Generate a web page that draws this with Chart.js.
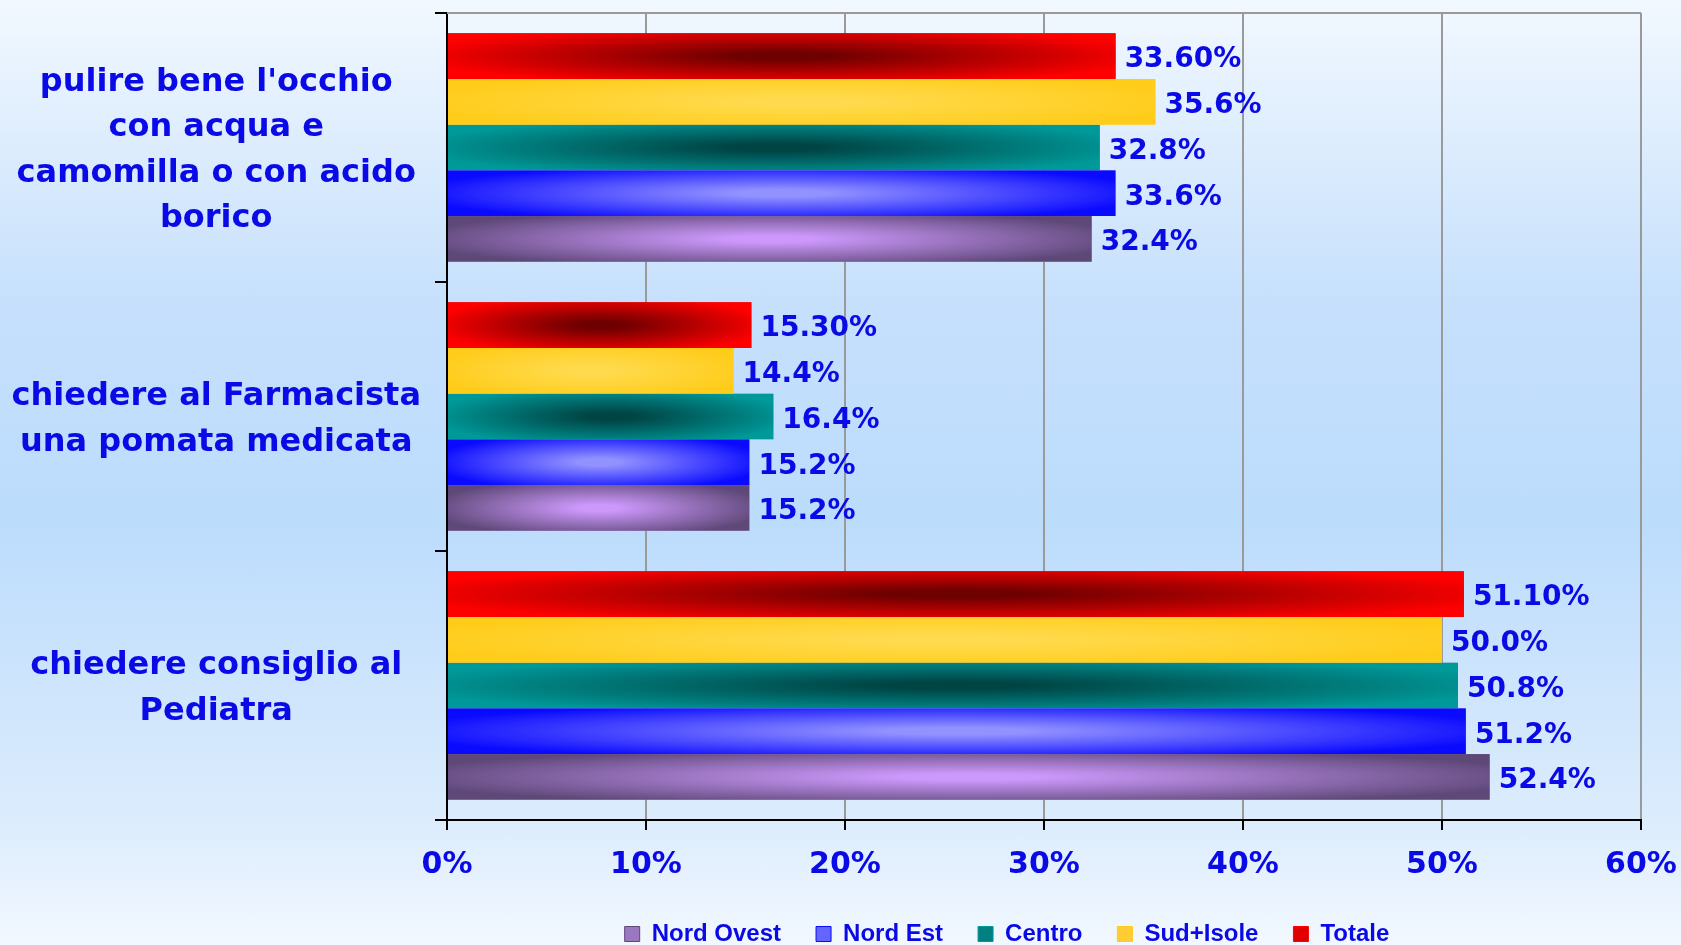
<!DOCTYPE html>
<html>
<head>
<meta charset="utf-8">
<script src="https://cdn.jsdelivr.net/npm/chart.js@4"></script>
<style>
html, body { margin: 0; padding: 0; }
body {
    width: 1681px; height: 945px; overflow: hidden;
    background: linear-gradient(to bottom, #f2f8ff 0%, #c6e0fc 32%, #bcdcfc 55%, #dcecfd 87%, #f2f8ff 100%);
}
</style>
</head>
<body>
<canvas id="chart" width="1681" height="945"></canvas>
<script>

const categories = [
    ["pulire bene l'occhio", "con acqua e", "camomilla o con acido", "borico"],
    ["chiedere al Farmacista", "una pomata medicata"],
    ["chiedere consiglio al", "Pediatra"]
];

// top-to-bottom order inside each group
const seriesNames = ['Totale', 'Sud+Isole', 'Centro', 'Nord Est', 'Nord Ovest'];
const totale    = [33.6, 15.3, 51.1];
const sudIsole  = [35.6, 14.4, 50.0];
const centro    = [32.8, 16.4, 50.8];
const nordEst   = [33.6, 15.2, 51.2];
const nordOvest = [32.4, 15.2, 52.4];
const labelDecimals = [2, 1, 1, 1, 1];

const xTicks = [0, 10, 20, 30, 40, 50, 60];


const BLUE_TEXT = '#0a0ae6';
const FONT = "'DejaVu Sans', Verdana, sans-serif";
const LEGEND_FONT = "'Liberation Sans', Arial, sans-serif";

// base colour + elliptical glow in the middle of each bar
const looks = [
    {base: '#ff0000', glow: [110, 0, 0],    alpha: 1.0,  legend: '#e00000'},
    {base: '#ffcc1a', glow: [255, 222, 90], alpha: 0.8,  legend: '#ffcc33'},
    {base: '#009999', glow: [0, 68, 68],     alpha: 1.0,  legend: '#008080'},
    {base: '#0a0aff', glow: [146, 146, 255], alpha: 1.0,  legend: '#6464ff'},
    {base: '#5e4878', glow: [204, 152, 250], alpha: 1.0,  legend: '#9a78c0'}
];


function shadeBar(c, left, top, w, h, look){
    c.save();
    c.translate(left, top);
    c.beginPath();
    c.rect(0, 0, w, h);
    c.clip();
    c.fillStyle = look.base;
    c.fillRect(0, 0, w, h);
    c.translate(w / 2, h / 2);
    c.scale(w * 0.56, h * 0.64);
    let g = c.createRadialGradient(0, 0, 0, 0, 0, 1);
    let rgb = look.glow.join(',');
    g.addColorStop(0, 'rgba(' + rgb + ',' + look.alpha + ')');
    g.addColorStop(0.12, 'rgba(' + rgb + ',' + look.alpha + ')');
    g.addColorStop(1, 'rgba(' + rgb + ',0)');
    c.fillStyle = g;
    c.fillRect(-1, -1, 2, 2);
    c.restore();
}


const barDecor = {
    id: 'barDecor',
    afterLayout(chart){
        // legend sits right of centre, a bit lower, as in the original sheet
        let lg = chart.legend;
        let dx = 1007 - (lg.left + lg.right) / 2;
        lg.left += dx;
        lg.right += dx;
        lg.top += 11;
        lg.bottom += 11;
    },
    beforeDatasetsDraw(chart){
        // grey frame line along the top of the plot
        let a = chart.chartArea;
        let c = chart.ctx;
        c.save();
        c.strokeStyle = '#9a9a9a';
        c.lineWidth = 2;
        c.beginPath();
        c.moveTo(a.left, a.top);
        c.lineTo(a.right, a.top);
        c.stroke();
        c.restore();
    },
    afterDatasetsDraw(chart){
        let c = chart.ctx;
        chart.data.datasets.forEach((ds, di) => {
            let meta = chart.getDatasetMeta(di);
            meta.data.forEach(bar => {
                let p = bar.getProps(['x', 'y', 'base', 'height'], true);
                let left = Math.min(p.x, p.base);
                shadeBar(c, left, p.y - p.height / 2, Math.abs(p.x - p.base), p.height, looks[di]);
            });
        });

        c.save();
        c.fillStyle = BLUE_TEXT;
        c.font = 'bold 28px ' + FONT;
        c.textAlign = 'left';
        c.textBaseline = 'middle';
        chart.data.datasets.forEach((ds, di) => {
            let meta = chart.getDatasetMeta(di);
            meta.data.forEach((bar, i) => {
                let txt = ds.data[i].toFixed(labelDecimals[di]) + '%';
                c.fillText(txt, bar.x + 9, bar.y + 4);
            });
        });
        c.restore();
    }
};


const seriesData = [totale, sudIsole, centro, nordEst, nordOvest];

let config = {
    type: 'bar',
    data: {
        labels: categories,
        datasets: seriesNames.map((name, i) => ({
            label: name,
            data: seriesData[i],
            backgroundColor: looks[i].legend,
            borderWidth: 0,
            barPercentage: 1.0,
            categoryPercentage: 0.85
        }))
    },
    options: {
        indexAxis: 'y',
        responsive: false,
        animation: false,
        devicePixelRatio: 1,
        layout: {
            padding: {top: 13, left: 0, right: 40, bottom: 0}
        },
        plugins: {
            tooltip: {enabled: false},
            legend: {
                display: true,
                position: 'bottom',
                reverse: true,
                labels: {
                    boxWidth: 15,
                    boxHeight: 15,
                    padding: 35,
                    color: BLUE_TEXT,
                    font: {family: LEGEND_FONT, weight: 'bold', size: 24},
                    generateLabels(chart){
                        let items = Chart.defaults.plugins.legend.labels.generateLabels(chart);
                        items.forEach(it => {
                            it.fillStyle = looks[it.datasetIndex].legend;
                            it.strokeStyle = looks[it.datasetIndex].base;
                            it.lineWidth = 1;
                        });
                        return items;
                    }
                }
            }
        },
        scales: {
            x: {
                min: 0,
                max: 60,
                afterBuildTicks(scale){
                    scale.ticks = xTicks.map(v => ({value: v}));
                },
                afterFit(scale){
                    scale.height = 56;
                    scale.paddingLeft = 0;
                    scale.paddingRight = 0;
                },
                ticks: {
                    callback: v => v + '%',
                    color: BLUE_TEXT,
                    padding: 17,
                    font: {family: FONT, weight: 'bold', size: 30}
                },
                grid: {
                    color: ctx => (ctx.tick && ctx.tick.value === 0) ? '#000' : '#9a9a9a',
                    lineWidth: 2,
                    tickColor: '#000',
                    tickLength: 10
                },
                border: {color: '#000', width: 2}
            },
            y: {
                grid: {
                    drawOnChartArea: false,
                    offset: true,
                    color: '#000',
                    lineWidth: 2,
                    tickLength: 12
                },
                border: {color: '#000', width: 2},
                ticks: {
                    crossAlign: 'center',
                    padding: 14,
                    labelOffset: 3,
                    color: BLUE_TEXT,
                    font: {family: FONT, weight: 'bold', size: 32, lineHeight: 1.42}
                },
                afterFit(scale){
                    scale.width = 447;
                    scale.paddingTop = 0;
                    scale.paddingBottom = 0;
                }
            }
        }
    },
    plugins: [barDecor]
};

new Chart(document.getElementById('chart'), config);

</script>
</body>
</html>
